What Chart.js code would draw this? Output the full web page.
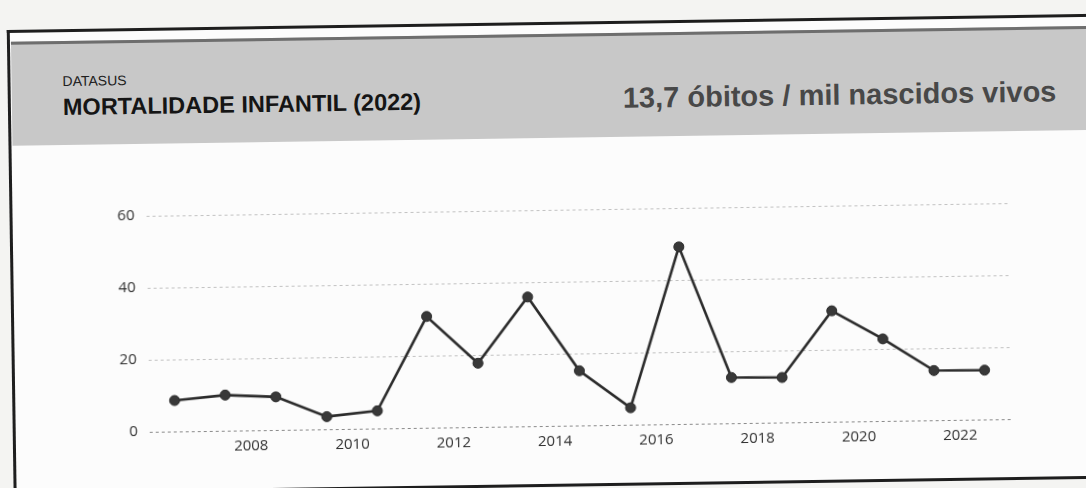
<!DOCTYPE html>
<html lang="pt-BR">
<head>
<meta charset="utf-8">
<title>Mortalidade infantil (2022)</title>
<script src="https://cdn.jsdelivr.net/npm/chart.js@4.4.1/dist/chart.umd.min.js"></script>
<style>
    html, body { margin: 0; padding: 0; width: 1086px; height: 488px; overflow: hidden; background: #f4f4f2; }
    #page { position: absolute; left: 0; top: 0; width: 1086px; height: 488px; transform: rotate(-0.85deg); transform-origin: 543px 244px; }
    #frame { position: absolute; left: 10px; top: 22px; width: 1120px; height: 459px; background: #fcfcfc;
             border-left: 3px solid #1e1e1e; border-top: 3px solid #1e1e1e; border-bottom: 3px solid #1e1e1e; }
    #header { position: absolute; left: 14px; top: 34px; width: 1110px; height: 101px; background: #c8c8c8; border-top: 3px solid #6e6e6e; }
    .txt { position: absolute; white-space: nowrap; line-height: 1; font-family: "Liberation Sans", Arial, sans-serif; }
    #source { left: 65px; top: 67px; font-size: 14px; color: #202020; }
    #title { left: 65px; top: 89px; font-size: 23.5px; font-weight: bold; color: #151515; }
    #kpi { left: 625px; top: 85px; font-size: 29px; font-weight: bold; color: #484848; }
    #chart { position: absolute; left: 0; top: 0; }
</style>
</head>
<body>
<div id="page">
    <div id="frame"></div>
    <div id="header"></div>
    <div class="txt" id="source">DATASUS</div>
    <div class="txt" id="title">MORTALIDADE INFANTIL (2022)</div>
    <div class="txt" id="kpi">13,7 óbitos / mil nascidos vivos</div>
    <canvas id="chart" width="1086" height="488"></canvas>
</div>
<script>
// óbitos por mil nascidos vivos, um ponto por ano
const years = [2006, 2007, 2008, 2009, 2010, 2011, 2012, 2013, 2014, 2015, 2016, 2017, 2018, 2019, 2020, 2021, 2022];
const obitos = [8.6, 9.9, 9.2, 3.5, 4.9, 30.9, 17.7, 35.9, 15.2, 4.7, 49.2, 12.7, 12.5, 30.8, 22.8, 13.8, 13.7];
const yTicks = [0, 20, 40, 60];
const xTicks = [2008, 2010, 2012, 2014, 2016, 2018, 2020, 2022];

const tickFont = { family: "Open Sans", size: 15 };

// points sit in the middle of each year, labels at the start of the year
const points = years.map((y, i) => ({ x: y + 0.5, y: obitos[i] }));

new Chart(document.getElementById('chart').getContext('2d'), {
    type: 'line',
    data: {
        datasets: [{
            data: points,
            borderColor: '#2b2b2b',
            borderWidth: 2.6,
            pointRadius: 5,
            pointBackgroundColor: '#383838',
            pointBorderColor: '#2b2b2b',
            pointBorderWidth: 1,
            tension: 0
        }]
    },
    options: {
        responsive: false,
        animation: false,
        layout: { autoPadding: false, padding: { left: 0, top: 210, right: 78, bottom: 22 } },
        plugins: { legend: { display: false }, tooltip: { enabled: false } },
        scales: {
            x: {
                type: 'linear',
                min: 2006,
                max: 2023,
                afterBuildTicks: scale => { scale.ticks = xTicks.map(v => ({ value: v })); },
                afterFit: scale => { scale.height = 40; },
                grid: { display: false, drawTicks: false },
                border: { display: false },
                ticks: { padding: 7, maxRotation: 0, autoSkip: false, color: '#303030', font: tickFont, callback: v => String(v) }
            },
            y: {
                min: 0,
                max: 60,
                afterBuildTicks: scale => { scale.ticks = yTicks.map(v => ({ value: v })); },
                afterFit: scale => { scale.width = 147; },
                grid: {
                    color: c => (c.tick && c.tick.value === 0) ? '#8a8a8a' : '#c2c2c2',
                    lineWidth: 1,
                    drawTicks: false
                },
                border: { display: false, dash: [3, 3] },
                ticks: { padding: 12, color: '#303030', font: tickFont }
            }
        }
    }
});
</script>
</body>
</html>
